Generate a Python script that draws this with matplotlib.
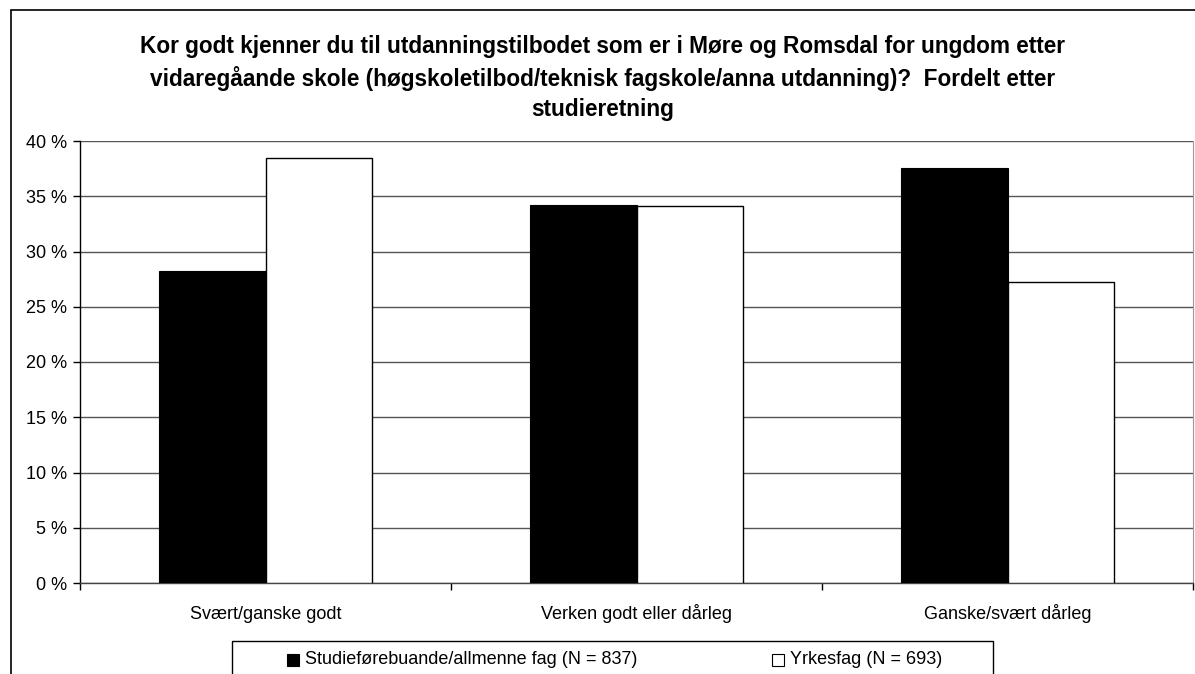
import matplotlib
matplotlib.use("Agg")
import matplotlib.pyplot as plt
import numpy as np
from matplotlib.patches import Rectangle

plt.rcParams['font.family'] = ['Liberation Sans', 'DejaVu Sans']

categories = ["Svært/ganske godt", "Verken godt eller dårleg", "Ganske/svært dårleg"]
studie = [28.2, 34.2, 37.6]
yrkesfag = [38.5, 34.1, 27.2]
series_labels = ["Studieførebuande/allmenne fag (N = 837)", "Yrkesfag (N = 693)"]
yticks = [0, 5, 10, 15, 20, 25, 30, 35, 40]
title = ("Kor godt kjenner du til utdanningstilbodet som er i Møre og Romsdal for ungdom etter\n"
         "vidaregåande skole (høgskoletilbod/teknisk fagskole/anna utdanning)?  Fordelt etter\n"
         "studieretning")

W, H = 1195, 674
fig = plt.figure(figsize=(W / 100, H / 100), dpi=100)
ax = fig.add_axes([80 / W, 1 - 583 / H, 1113 / W, 442 / H])

x = np.arange(len(categories))
bw = 0.287
ax.bar(x - bw / 2, studie, bw, color="black", edgecolor="black", linewidth=0.8, zorder=3)
ax.bar(x + bw / 2, yrkesfag, bw, color="white", edgecolor="black", linewidth=1.0, zorder=3)

ax.set_xlim(-0.5, 2.5)
ax.set_ylim(0, 40)
ax.set_yticks(yticks)
ax.set_yticklabels([f"{t} %" for t in yticks], fontsize=13)
ax.yaxis.grid(True, color="#555555", linewidth=1.0, zorder=0)
ax.set_axisbelow(True)

ax.set_xticks([-0.5, 0.5, 1.5, 2.5])
ax.set_xticklabels([])
ax.set_xticks(x, minor=True)
ax.set_xticklabels(categories, minor=True, fontsize=13, va="baseline")
ax.tick_params(axis="x", which="minor", length=0, pad=26)
ax.tick_params(axis="x", which="major", length=5, direction="out", width=1)
ax.tick_params(axis="y", length=5, direction="out", width=1, pad=4)

for s in ["left", "bottom"]:
    ax.spines[s].set_color("black")
    ax.spines[s].set_linewidth(1.0)
ax.spines["bottom"].set_color("#444444")
ax.spines["top"].set_visible(False)
ax.spines["right"].set_color("#999999")

fig.text(0.5 * (139 + 1067) / W, 1 - 35 / H, title, ha="center", va="top",
         fontsize=16.3, fontweight="bold", linespacing=1.4)

# outer chart border (continues past the right and bottom edge)
fig.add_artist(Rectangle((11 / W, -0.2), 2, 1.2 - 10 / H, transform=fig.transFigure,
                         fill=False, edgecolor="black", linewidth=1.2))

# legend box
fig.add_artist(Rectangle((232 / W, -0.1), 761 / W, 0.1 + 1 - 641 / H, transform=fig.transFigure,
                         fill=False, edgecolor="black", linewidth=1.0))
ly = 1 - 659 / H
fig.add_artist(Rectangle((287 / W, 1 - 666 / H), 12 / W, 12 / H, transform=fig.transFigure,
                         facecolor="black", edgecolor="black", linewidth=0.8))
fig.text(305 / W, ly, series_labels[0], ha="left", va="center", fontsize=13)
fig.add_artist(Rectangle((772 / W, 1 - 666 / H), 12 / W, 12 / H, transform=fig.transFigure,
                         facecolor="white", edgecolor="black", linewidth=0.8))
fig.text(790 / W, ly, series_labels[1], ha="left", va="center", fontsize=13)

fig.savefig("out.png", dpi=100, facecolor="white")
